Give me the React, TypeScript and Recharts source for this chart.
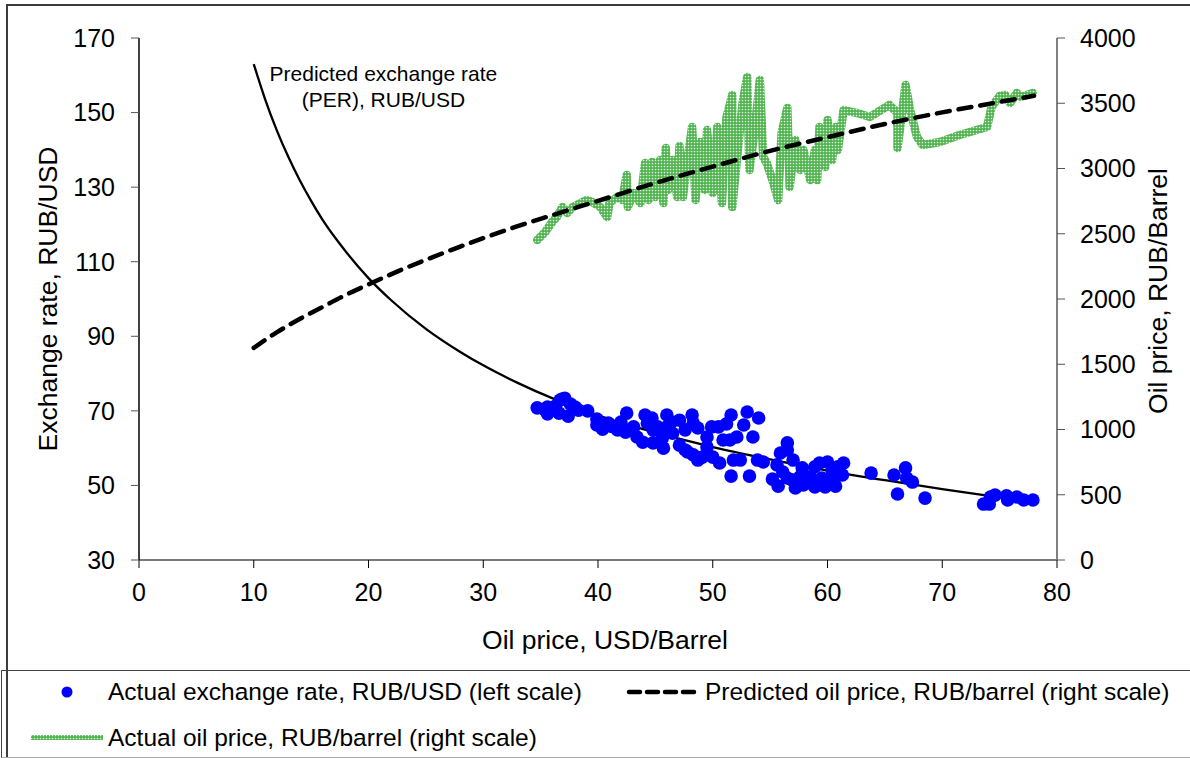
import { ComposedChart, Line, Scatter, XAxis, YAxis, ReferenceDot } from 'recharts';

const FONT = '"Liberation Sans", Arial, Helvetica, sans-serif';

// axis ticks
const oilTicks = [0, 10, 20, 30, 40, 50, 60, 70, 80];
const rateTicks = [30, 50, 70, 90, 110, 130, 150, 170];
const rubTicks = [0, 500, 1000, 1500, 2000, 2500, 3000, 3500, 4000];

// predicted exchange rate (PER), RUB/USD vs oil price USD/barrel
const perCurve: [number, number][] = [
  [10, 163.0], [11, 153.5], [12, 145.3], [13, 138.2], [14, 131.9], [15, 126.3],
  [16, 121.2], [18, 112.8], [20, 105.6], [22, 99.6], [25, 92.0], [28, 85.8],
  [30, 82.2], [33, 77.5], [36, 73.4], [40, 68.8], [45, 64.2], [50, 60.3],
  [55, 57.0], [60, 54.0], [65, 51.4], [70, 49.0], [75, 46.8], [78, 45.6],
];

// predicted oil price, RUB/barrel
const predictedRub: [number, number][] = [
  [10, 1625], [12, 1744], [14, 1847], [16, 1939], [18, 2030], [20, 2112],
  [22, 2191], [25, 2300], [28, 2402], [30, 2466], [33, 2558], [36, 2642],
  [40, 2752], [45, 2889], [50, 3015], [55, 3135], [60, 3240], [65, 3341],
  [70, 3430], [75, 3510], [78, 3557],
];

// actual exchange rate, RUB/USD
const actualRate: [number, number][] = [
  [34.7, 70.8], [35.4, 70.2], [35.6, 71.0], [35.6, 69.2], [36.3, 71.3], [36.6, 69.4],
  [36.7, 72.9], [36.9, 73.2], [37.1, 73.4], [37.4, 68.6], [37.6, 71.8], [38.0, 71.0],
  [38.3, 70.2], [39.1, 70.0], [39.9, 67.8], [39.9, 66.2],
  [40.4, 65.1], [40.9, 66.7], [41.2, 65.8], [41.7, 64.9], [42.0, 67.0], [42.4, 64.3],
  [42.5, 69.4], [43.1, 65.7], [43.4, 63.0], [43.9, 61.6], [44.1, 68.9], [44.3, 66.7],
  [44.7, 68.1], [44.8, 64.9], [44.8, 61.4], [45.2, 65.7], [45.6, 62.7], [45.7, 60.0],
  [46.0, 68.9], [46.0, 65.7], [46.4, 67.0], [46.5, 64.0], [47.1, 67.5], [47.1, 60.8],
  [47.6, 64.9], [47.6, 59.5], [47.8, 59.0], [48.2, 68.9], [48.3, 66.7], [48.3, 58.2],
  [48.7, 65.4], [48.7, 56.8], [49.1, 57.6], [49.5, 63.0], [49.5, 60.3], [49.9, 65.7],
  [50.0, 57.6],
  [50.5, 65.7], [50.6, 56.0], [50.9, 62.2], [51.2, 66.5], [51.5, 62.2], [51.6, 68.9],
  [51.6, 52.5], [51.8, 56.8], [52.1, 63.0], [52.4, 56.8], [52.7, 66.2], [53.0, 69.7],
  [53.2, 52.5], [53.5, 63.0], [54.0, 68.1], [53.9, 56.8], [54.4, 56.3], [55.2, 51.7],
  [55.7, 49.8], [55.9, 58.7],
  [56.5, 61.4], [56.5, 59.5], [55.6, 55.5], [56.1, 53.6], [56.5, 52.0], [57.0, 56.8],
  [56.9, 51.5], [57.2, 49.3], [57.8, 54.7], [57.6, 52.3], [57.9, 50.1], [58.5, 52.3],
  [58.9, 55.0], [58.9, 49.6], [59.3, 56.0], [59.5, 52.0], [59.8, 49.6], [60.0, 56.3],
  [60.4, 54.1], [60.4, 51.5], [60.7, 49.8], [60.9, 55.0], [61.3, 52.8], [61.4, 56.0],
  [63.8, 53.3], [65.8, 52.8], [66.1, 47.7], [66.8, 54.7], [66.9, 52.0], [67.4, 50.9],
  [68.5, 46.6], [73.6, 45.0], [74.1, 45.0], [74.2, 46.9], [74.6, 47.4], [75.6, 47.2],
  [75.7, 46.1], [76.5, 46.9], [77.1, 46.1], [77.9, 46.1],
];

// actual oil price, RUB/barrel (in time order)
const actualRub: [number, number][] = [
  [34.7, 2452], [35.4, 2513], [36.0, 2590], [36.4, 2628], [36.9, 2705], [37.3, 2659],
  [37.8, 2705], [39.0, 2759], [39.5, 2743], [40.2, 2705], [40.8, 2628], [41.0, 2736],
  [41.7, 2782], [42.1, 2759], [42.5, 2950], [42.6, 2705], [43.1, 2812], [43.7, 2736],
  [44.1, 3042], [44.4, 2759], [44.7, 3050], [45.0, 2782], [45.4, 3065], [45.7, 2736],
  [45.9, 3157], [46.1, 2835], [46.5, 3065], [46.9, 2782], [47.1, 3172], [47.4, 2782],
  [47.8, 3065], [48.2, 3318], [48.5, 2759], [48.9, 3203], [49.3, 2835], [49.5, 3295],
  [50.0, 2812], [50.4, 3318], [50.8, 2736], [51.2, 3395], [51.7, 3563], [51.7, 2705],
  [52.1, 3065], [52.6, 3502], [53.0, 3701], [53.2, 2989], [53.7, 3318], [54.1, 3678],
  [54.4, 3088], [54.7, 3042], [55.2, 2912], [55.7, 2759], [56.0, 3272], [56.5, 3464],
  [56.7, 2858], [57.2, 3218], [57.6, 2989], [57.9, 3142], [58.5, 2912], [58.9, 3142],
  [59.1, 2912], [59.3, 3318], [59.8, 3012], [60.0, 3372], [60.4, 3065], [60.7, 3318],
  [60.9, 3142], [61.4, 3448], [62.6, 3425], [63.7, 3395], [65.4, 3487], [66.1, 3425],
  [66.1, 3157], [66.5, 3425], [66.8, 3640], [67.2, 3448], [67.8, 3241], [68.3, 3180],
  [69.8, 3203], [71.5, 3257], [73.0, 3295], [73.9, 3318], [74.3, 3471], [75.0, 3556],
  [75.5, 3563], [75.9, 3502], [76.5, 3579], [76.8, 3548], [77.4, 3563], [77.9, 3579],
];

const toRows = (pts: [number, number][]) => pts.map(([x, y]) => ({ x, y }));

const tickStyle = { fill: '#000', fontSize: 25, fontFamily: FONT };

const xTitle = (props: any) => {
  const vb = props.viewBox;
  const cx = vb.x + vb.width / 2 + 7;
  return (
    <text x={cx} y={649} textAnchor="middle" fontSize={26.5} fontFamily={FONT} fill="#000">
      Oil price, USD/Barrel
    </text>
  );
};

const leftTitle = (props: any) => {
  const vb = props.viewBox;
  const cx = vb.x + 57;
  const cy = vb.y + vb.height / 2;
  return (
    <text x={cx} y={cy} transform={`rotate(-90 ${cx} ${cy})`} textAnchor="middle" fontSize={26.5} fontFamily={FONT} fill="#000">
      Exchange rate, RUB/USD
    </text>
  );
};

const rightTitle = (props: any) => {
  const vb = props.viewBox;
  const cx = vb.x + 110;
  const cy = vb.y + vb.height / 2 - 8;
  return (
    <text x={cx} y={cy} transform={`rotate(-90 ${cx} ${cy})`} textAnchor="middle" fontSize={26.5} fontFamily={FONT} fill="#000">
      Oil price, RUB/Barrel
    </text>
  );
};

const perLabel = (props: any) => {
  const vb = props.viewBox;
  const cx = vb.x + vb.width / 2;
  const cy = vb.y + vb.height / 2;
  return (
    <text x={cx} y={cy} textAnchor="middle" fontSize={21} fontFamily={FONT} fill="#000">
      <tspan x={cx} dy={17}>Predicted exchange rate</tspan>
      <tspan x={cx} dy={26}>(PER), RUB/USD</tspan>
    </text>
  );
};

const BlueDot = (props: any) => <circle cx={props.cx} cy={props.cy} r={6.8} fill="#0000ff" />;

const legendText = { position: 'absolute' as const, fontSize: 24.5, whiteSpace: 'nowrap' as const, color: '#000', lineHeight: '28px' };

export default function App() {
  return (
    <div style={{ position: 'relative', width: 1190, height: 758, overflow: 'hidden', background: '#fff', fontFamily: FONT }}>
      <style>{`body{margin:0}`}</style>

      {/* outer frame */}
      <div style={{ position: 'absolute', left: 6, top: 4, width: 1200, height: 800, borderLeft: '2px solid #3c3c3c', borderTop: '2px solid #3c3c3c' }} />

      <ComposedChart width={1190} height={758} margin={{ top: 38, right: 0, bottom: 88, left: 0 }} style={{ position: 'absolute', left: 0, top: 0 }}>
        <defs>
          <pattern id="greenDots" patternUnits="userSpaceOnUse" width={3} height={3}>
            <rect width={3} height={3} fill="#4fb34f" />
            <circle cx={1.5} cy={1.5} r={0.85} fill="#dff3df" />
          </pattern>
        </defs>
        <XAxis
          dataKey="x"
          type="number"
          domain={[0, 80]}
          ticks={oilTicks}
          height={110}
          tickSize={8}
          tickMargin={15}
          tick={tickStyle}
          axisLine={{ stroke: '#7a7a7a', strokeWidth: 2 }}
          tickLine={{ stroke: '#000' }}
          label={xTitle}
        />
        <YAxis
          yAxisId="left"
          domain={[30, 170]}
          ticks={rateTicks}
          width={139}
          tickSize={8}
          tickMargin={16}
          tick={tickStyle}
          axisLine={{ stroke: '#000', strokeWidth: 1.5 }}
          tickLine={{ stroke: '#555' }}
          label={leftTitle}
        />
        <YAxis
          yAxisId="right"
          orientation="right"
          domain={[0, 4000]}
          ticks={rubTicks}
          width={133}
          tickSize={8}
          tickMargin={15}
          tick={tickStyle}
          axisLine={{ stroke: '#808080', strokeWidth: 2 }}
          tickLine={{ stroke: '#555' }}
          label={rightTitle}
        />
        <Line
          data={toRows(actualRub)}
          yAxisId="right"
          dataKey="y"
          type="linear"
          stroke="url(#greenDots)"
          strokeWidth={8.5}
          strokeLinejoin="round"
          strokeLinecap="round"
          dot={false}
          activeDot={false}
          isAnimationActive={false}
        />
        <Scatter data={toRows(actualRate)} yAxisId="left" dataKey="y" shape={BlueDot} isAnimationActive={false} />
        <Line
          data={toRows(predictedRub)}
          yAxisId="right"
          dataKey="y"
          type="monotone"
          stroke="#000"
          strokeWidth={4.5}
          strokeDasharray="13 9"
          strokeLinecap="round"
          dot={false}
          activeDot={false}
          isAnimationActive={false}
        />
        <Line
          data={toRows(perCurve)}
          yAxisId="left"
          dataKey="y"
          type="monotone"
          stroke="#000"
          strokeWidth={2.3}
          dot={false}
          activeDot={false}
          isAnimationActive={false}
        />
        <ReferenceDot yAxisId="left" x={21.3} y={163} r={0} stroke="none" fill="none" label={perLabel} />
      </ComposedChart>

      {/* legend */}
      <div style={{ position: 'absolute', left: 1, top: 670, width: 1200, height: 86, borderTop: '1.5px solid #444', borderLeft: '1.5px solid #444', borderBottom: '1.5px solid #aaa' }} />
      <svg width={1190} height={90} style={{ position: 'absolute', left: 0, top: 668 }}>
        <circle cx={67} cy={24} r={5.5} fill="#0000ff" />
        <line x1={629} y1={24} x2={696} y2={24} stroke="#000" strokeWidth={4.5} strokeDasharray="11 7" strokeLinecap="round" />
        <defs>
          <pattern id="greenDotsLegend" patternUnits="userSpaceOnUse" width={3} height={3}>
            <rect width={3} height={3} fill="#4fb34f" />
            <circle cx={1.5} cy={1.5} r={0.85} fill="#dff3df" />
          </pattern>
        </defs>
        <rect x={31} y={67} width={72} height={5} fill="url(#greenDotsLegend)" />
      </svg>
      <div style={{ ...legendText, left: 108, top: 678 }}>Actual exchange rate, RUB/USD (left scale)</div>
      <div style={{ ...legendText, left: 705, top: 678 }}>Predicted oil price, RUB/barrel (right scale)</div>
      <div style={{ ...legendText, left: 108, top: 724 }}>Actual oil price, RUB/barrel (right scale)</div>
    </div>
  );
}
